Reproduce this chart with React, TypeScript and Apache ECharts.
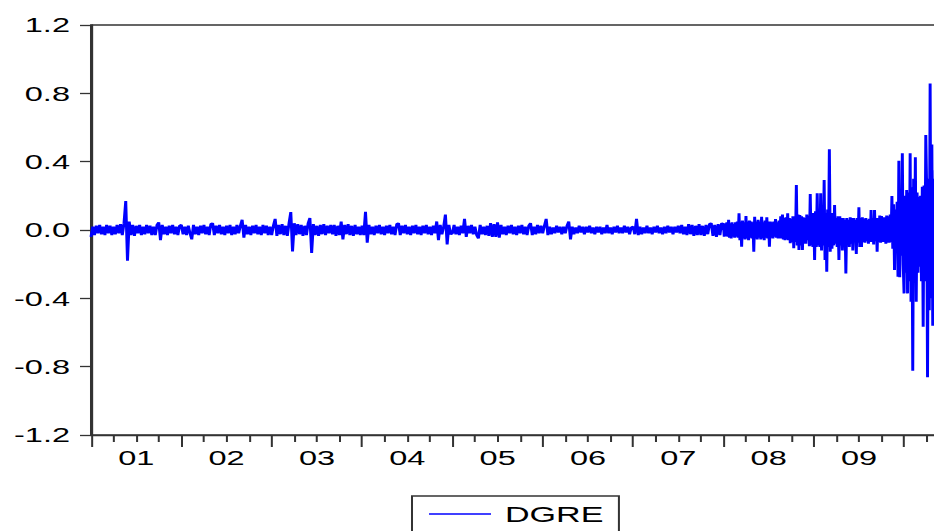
import React, { useEffect, useRef } from "react";
import * as echarts from "echarts";

// Tick labels
const yearLabels = ["01", "02", "03", "04", "05", "06", "07", "08", "09"];
const seriesName = "DGRE";

// Weekly values of DGRE, 2001-2007 (52 per year)
const y2001 = [-.04,.02,-.03,.025,-.02,.03,-.025,.02,-.03,.03,
  -.02,.025,-.03,.02,-.025,.03,-.02,.035,-.03,.04,
  .17,-.18,.05,-.03,.03,-.035,.025,-.02,.03,-.03,
  .02,-.025,.03,-.02,.025,-.03,.02,-.03,.03,.045,
  -.06,.03,-.025,.02,-.03,.025,-.02,.03,-.025,.02,
  -.03,.025];
const y2002 = [.03,-.025,.02,-.03,.025,-.02,-.055,.03,-.025,.02,
  -.03,.025,-.02,.03,-.025,.02,-.03,.035,.04,-.03,
  .025,-.02,.03,-.025,.02,-.03,.025,-.02,.03,-.03,
  .02,-.025,.03,-.02,.025,.06,-.045,.03,-.025,.02,
  -.03,.025,-.02,.03,-.025,.02,-.03,.03,-.02,.025,
  -.03,.02];
const y2003 = [-.03,.025,.065,-.035,.03,-.025,.035,-.03,.025,-.035,
  .04,.105,-.125,.04,-.03,.035,-.025,.03,-.035,.025,
  -.03,.04,.07,-.135,.035,-.03,.025,-.035,.03,-.025,
  .035,-.03,.025,-.02,.03,-.025,.03,-.035,.025,-.03,
  .05,-.055,.03,-.025,.035,-.03,.025,-.035,.03,-.025,
  .02,-.03];
const y2004 = [.025,-.03,.107,-.075,.03,-.025,.02,-.03,.025,-.02,
  .03,-.025,.02,-.03,.025,-.02,.03,-.025,.02,-.03,
  .035,.04,-.03,.025,-.02,.03,-.025,.02,-.03,.025,
  -.02,.03,-.025,.02,-.03,.025,-.02,.03,-.025,.02,
  -.03,.025,-.02,.05,-.06,.03,-.025,.02,.09,-.085,
  .03,-.025];
const y2005 = [-.02,.03,-.025,.02,-.03,.025,-.02,.065,-.04,.025,
  -.02,.03,-.025,.02,-.03,-.05,.03,-.025,.02,-.03,
  .025,-.035,.04,-.04,.035,-.04,.045,-.045,.03,-.025,
  .02,-.03,.025,-.02,.03,-.025,.02,-.03,.025,-.02,
  .03,-.025,.02,-.03,.025,.04,-.03,.02,-.025,.03,
  -.02,.025];
const y2006 = [-.02,.025,.065,-.03,.02,-.025,.015,-.02,.025,-.015,
  .02,-.025,.02,-.02,.025,.05,-.055,.02,-.025,.015,
  -.02,.025,-.015,.02,-.025,.02,-.015,.025,-.02,.015,
  -.025,.02,-.015,.02,-.025,.015,-.02,.03,-.02,.015,
  -.025,.02,-.015,.025,-.02,.015,-.02,.025,-.015,.02,
  -.025,.015];
const y2007 = [.02,-.025,.066,-.03,.02,-.025,.015,-.02,.025,-.02,
  .015,-.025,.02,-.015,.025,-.02,.015,-.025,.02,-.02,
  .025,-.015,.02,-.025,.02,-.015,.025,-.02,.03,-.025,
  .02,-.03,.035,-.025,.03,-.035,.025,-.03,.035,-.03,
  .025,-.035,.03,-.025,.035,.04,-.035,.03,-.04,.035,
  -.03,.04];

// Half-weekly values, 2008-2010 (104 per year, 2010 partial)
const y2008 = [.035,-.04, .04,-.035, .045,-.04, .06,-.045, .04,-.049,
  .045,-.04, .035,-.045, .045,-.04, .05,-.045, .098,-.06,
  .05,-.098, .055,-.05, .045,-.055, .082,-.05, .05,-.06,
  .055,-.045, .05,-.05, .045,-.127, .078,-.05, .05,-.055,
  .06,-.045, .05,-.055, .077,-.05, .045,-.06, .055,-.045,
  .074,-.05, .05,-.098, .05,-.045, .045,-.05, .05,-.04,
  .064,-.045, .045,-.05, .055,-.05, .08,-.05, .09,-.055,
  .07,-.06, .075,-.055, .098,-.06, .07,-.078, .065,-.07,
  .08,-.107, .08,-.07, .263,-.09, .09,-.117, .088,-.09,
  .08,-.117, .075,-.08, .07,-.08, .09,-.06, .08,-.095,
  .21,-.09, .1,-.1];
const y2009 = [.1,-.176, .11,-.1, .215,-.09, .1,-.1, .215,-.12,
  .12,-.09, .293,-.176, .1,-.244, .12,-.1, .472,-.127,
  .09,-.11, .1,-.09, .146,-.08, .07,-.1, .08,-.176,
  .08,-.09, .07,-.12, .07,-.09, .06,-.254, .07,-.08,
  .06,-.1, .074,-.08, .07,-.12, .07,-.07, .06,-.14,
  .07,-.075, .133,-.1, .07,-.1, .075,-.07, .065,-.075,
  .07,-.065, .06,-.08, .065,-.07, .117,-.07, .07,-.085,
  .117,-.065, .07,-.127, .07,-.07, .085,-.075, .082,-.07,
  .075,-.07, .075,-.08, .085,-.075, .08,-.075, .09,-.07,
  .199,-.11, .15,-.234, .12,-.1, .166,-.273, .406,-.277,
  .2,-.15, .449,-.2];
const y2010 = [-.371,.2, -.25,.234, -.371,.22, -.3,.449, -.42,.25,
  -.824,.3, -.28,.426, -.42,.22, -.25,.195, -.215,.2,
  -.3,.253, -.566,.26, -.3,.556, .25,-.862, .3,-.47,
  .858,-.4, .5,-.56, .3,-.4, .35,-.3];

const years = [2001, 2002, 2003, 2004, 2005, 2006, 2007, 2008, 2009, 2010];
const yearly = [y2001, y2002, y2003, y2004, y2005, y2006, y2007, y2008, y2009, y2010];
const perYear = [52, 52, 52, 52, 52, 52, 52, 104, 104, 104];

// Layout (the reference is horizontally stretched; drawn narrow then scaled)
const H = 531;
const S = 934 / 603;
const FONT = '"Liberation Sans", Arial, Helvetica, sans-serif';

export default function App() {
  const ref = useRef<HTMLDivElement>(null);

  const gridLeft = 91 / S;
  const yearPx = 90.56 / S;
  const CW = Math.ceil(gridLeft + 10 * yearPx) + 1;

  useEffect(() => {
    if (!ref.current) return;
    const chart = echarts.init(ref.current, undefined, { renderer: "svg" });

    const data: number[][] = [];
    yearly.forEach((arr, k) => {
      arr.forEach((v, i) => {
        data.push([years[k] + i / perYear[k], v]);
      });
    });

    const gridRight = CW - gridLeft - 10 * yearPx;
    const axisColor = "#333333";

    chart.setOption({
      animation: false,
      grid: {
        left: gridLeft,
        right: gridRight,
        top: 25,
        bottom: 96,
        show: true,
        borderColor: axisColor,
        borderWidth: 1.3,
        backgroundColor: "transparent",
      },
      legend: {
        data: [seriesName],
        left: 412 / S,
        top: 496,
        icon: "rect",
        itemWidth: 62 / S,
        itemHeight: 1.4,
        padding: [7, 10, 7, 11],
        borderColor: axisColor,
        borderWidth: 1.3,
        textStyle: { fontSize: 22, color: "#000", fontFamily: FONT, padding: [0, 0, 0, 4] },
      },
      xAxis: {
        type: "value",
        min: 2001,
        max: 2011,
        interval: 1,
        axisLine: { show: true, onZero: false, lineStyle: { color: axisColor, width: 1.3 } },
        axisTick: { show: true, length: 12, lineStyle: { color: axisColor, width: 1.3 } },
        minorTick: { show: true, splitNumber: 4, length: 7, lineStyle: { color: axisColor, width: 1.3 } },
        splitLine: { show: false },
        minorSplitLine: { show: false },
        axisLabel: {
          margin: 12,
          fontSize: 21,
          color: "#000",
          fontFamily: FONT,
          padding: [0, 0, 0, yearPx],
          showMinLabel: true,
          showMaxLabel: true,
          formatter: (v: number) => {
            const r = Math.round(v);
            const i = r - 2001;
            if (Math.abs(v - r) > 1e-6 || i < 0 || i >= yearLabels.length) return "";
            return yearLabels[i];
          },
        },
      },
      yAxis: {
        type: "value",
        min: -1.2,
        max: 1.2,
        interval: 0.4,
        axisLine: { show: true, onZero: false, lineStyle: { color: axisColor, width: 1.3 } },
        axisTick: { show: true, length: 11 / S, lineStyle: { color: axisColor, width: 1.3 } },
        splitLine: { show: false },
        axisLabel: {
          margin: 21 / S,
          fontSize: 21,
          color: "#000",
          fontFamily: FONT,
          formatter: (v: number) => (Math.abs(v) < 1e-9 ? 0 : v).toFixed(1),
        },
      },
      series: [
        {
          name: seriesName,
          type: "line",
          data,
          symbol: "none",
          showSymbol: false,
          lineStyle: { color: "#0000ff", width: 1.9 },
          itemStyle: { color: "#0000ff" },
          clip: true,
        },
      ],
    });

    return () => chart.dispose();
  }, []);

  return (
    <div style={{ position: "absolute", left: 0, top: 0, width: 934, height: H, overflow: "hidden", background: "#fff" }}>
      <div
        ref={ref}
        style={{ width: CW, height: H, transform: `scaleX(${S})`, transformOrigin: "0 0" }}
      />
    </div>
  );
}
